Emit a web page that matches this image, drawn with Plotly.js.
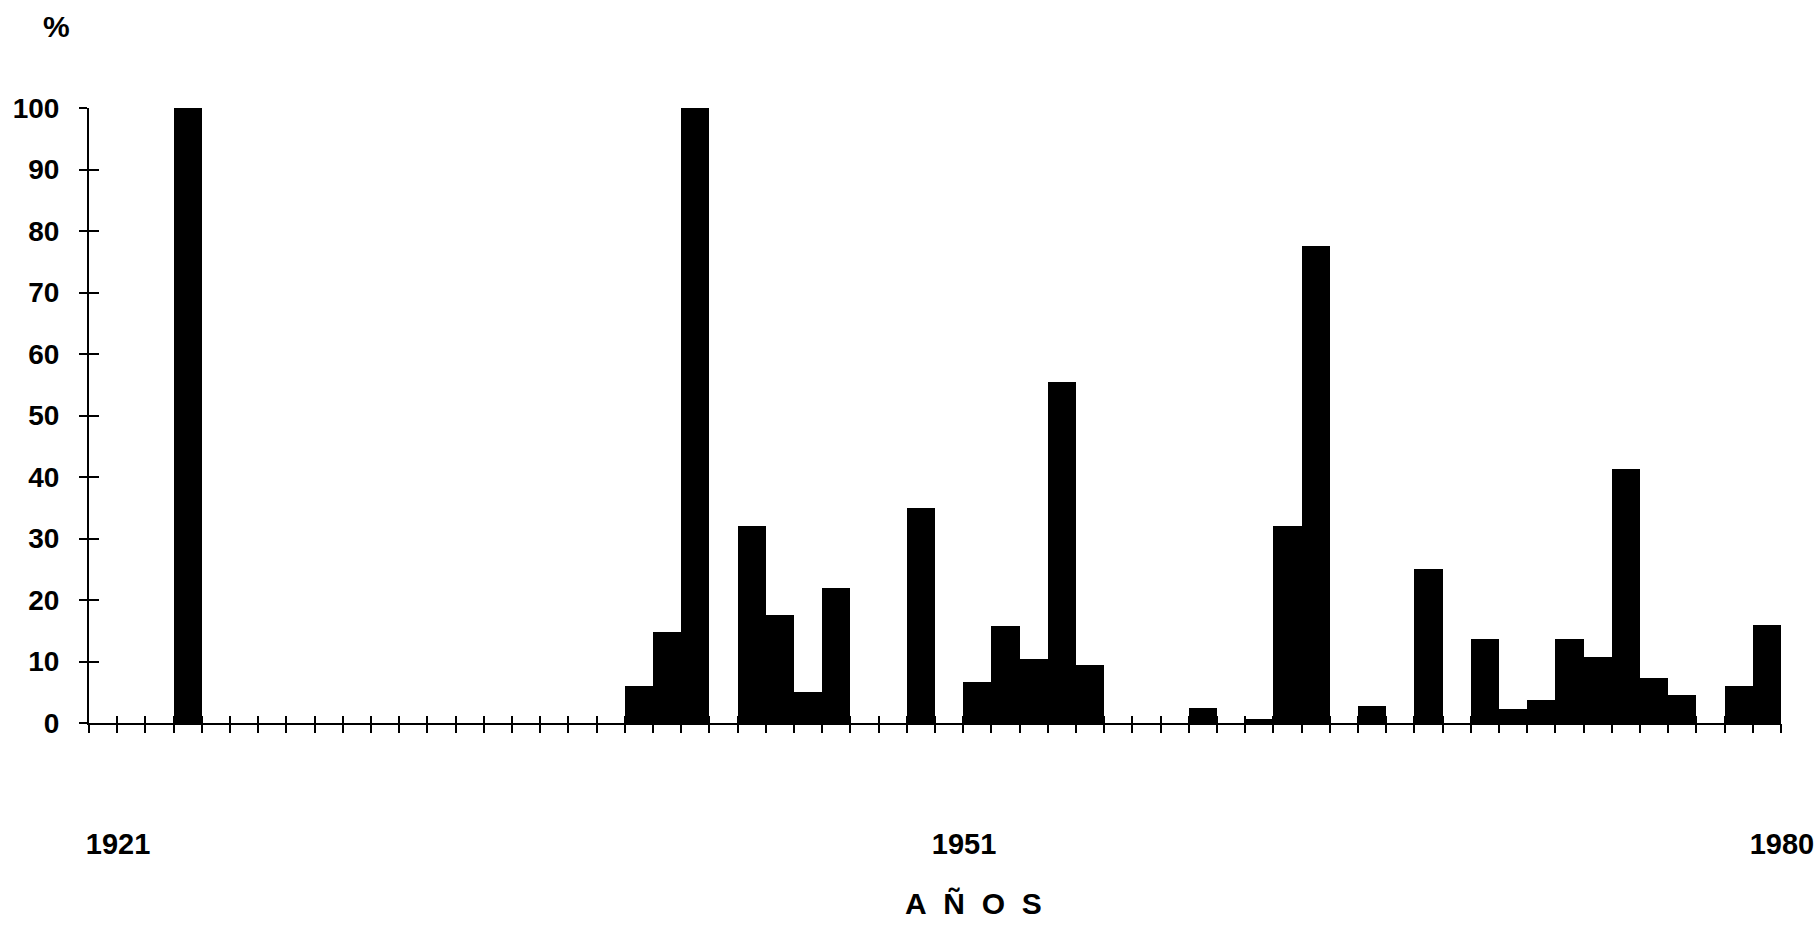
<!DOCTYPE html>
<html>
<head>
<meta charset="utf-8">
<script src="https://cdn.plot.ly/plotly-3.0.1.min.js"></script>
<style>html,body{margin:0;padding:0;background:#fff;}#chart{width:1816px;height:927px;}</style>
</head>
<body>
<div id="chart"></div>
<script>
// Years 1921–1980
const years = [1921,1922,1923,1924,1925,1926,1927,1928,1929,1930,
               1931,1932,1933,1934,1935,1936,1937,1938,1939,1940,
               1941,1942,1943,1944,1945,1946,1947,1948,1949,1950,
               1951,1952,1953,1954,1955,1956,1957,1958,1959,1960,
               1961,1962,1963,1964,1965,1966,1967,1968,1969,1970,
               1971,1972,1973,1974,1975,1976,1977,1978,1979,1980];
// Percentage values
const values = [0,0,0,100,0,0,0,0,0,0,
                0,0,0,0,0,0,0,0,0,6,
                14.8,100,0,32,17.5,5,22,0,0,35,
                0,6.7,15.8,10.4,55.5,9.5,0,0,0,2.4,
                0,0.6,32,77.5,0,2.8,0,25,0,13.6,
                2.2,3.7,13.7,10.7,41.3,7.3,4.6,0,6,15.9];
const labelYears = [1921, 1951, 1980];
const labelText = ['1921', '1951', '1980'];
const yTicks = [0,10,20,30,40,50,60,70,80,90,100];
const yTitle = '%';
const xTitle = 'A\u00a0\u00a0Ñ\u00a0\u00a0O\u00a0\u00a0S';

const F = 'Liberation Sans, Arial, sans-serif';
const xRange = [years[0] - 0.5, years[years.length - 1] + 0.5];

const trace = {
  type: 'bar',
  x: years,
  y: values,
  width: 1,
  marker: {color: '#000', line: {width: 0}},
  hoverinfo: 'x+y'
};
// invisible helper traces so the overlaying tick-only axes get drawn
const helper2 = {type: 'scatter', mode: 'markers', x: years, y: values,
  xaxis: 'x2', yaxis: 'y2', marker: {opacity: 0}, hoverinfo: 'skip'};
const helper3 = {type: 'scatter', mode: 'markers', x: years, y: values,
  xaxis: 'x3', yaxis: 'y2', marker: {opacity: 0}, hoverinfo: 'skip'};

const layout = {
  width: 1816,
  height: 927,
  margin: {l: 89, r: 35, t: 108, b: 204},
  paper_bgcolor: '#fff',
  plot_bgcolor: '#fff',
  showlegend: false,
  bargap: 0,
  xaxis: {
    range: xRange,
    showgrid: false, zeroline: false,
    showline: true, linecolor: '#000', linewidth: 2,
    tickmode: 'array', tickvals: labelYears, ticktext: labelText,
    ticks: '',
    ticklabelstandoff: 94,
    ticklabelshift: 15,
    ticklabeloverflow: 'allow',
    tickfont: {family: F, size: 29, color: '#000', weight: 'bold'}
  },
  xaxis2: {
    overlaying: 'x', range: xRange, anchor: 'y2',
    showgrid: false, zeroline: false, showline: false,
    tickmode: 'linear', tick0: xRange[0], dtick: 1,
    ticks: 'outside', ticklen: 9, tickwidth: 2, tickcolor: '#000',
    showticklabels: false
  },
  xaxis3: {
    overlaying: 'x', range: xRange, anchor: 'y2',
    showgrid: false, zeroline: false, showline: false,
    tickmode: 'linear', tick0: xRange[0], dtick: 1,
    ticks: 'inside', ticklen: 7, tickwidth: 2, tickcolor: '#000',
    showticklabels: false
  },
  yaxis: {
    range: [0, 100],
    showgrid: false, zeroline: false,
    showline: true, linecolor: '#000', linewidth: 2,
    tickmode: 'array', tickvals: yTicks, ticktext: yTicks.map(String),
    ticks: 'outside', ticklen: 8, tickwidth: 2, tickcolor: '#000',
    ticklabelstandoff: 14,
    tickfont: {family: F, size: 28, color: '#000', weight: 'bold'}
  },
  yaxis2: {
    overlaying: 'y', range: [0, 100], anchor: 'x2',
    showgrid: false, zeroline: false, showline: false,
    tickmode: 'array', tickvals: yTicks,
    ticks: 'inside', ticklen: 10, tickwidth: 2, tickcolor: '#000',
    showticklabels: false
  },
  annotations: [
    {text: yTitle, xref: 'paper', yref: 'paper', x: -0.019, y: 1.132,
     xanchor: 'center', yanchor: 'middle', showarrow: false,
     font: {family: F, size: 30, color: '#000', weight: 'bold'}},
    {text: xTitle, xref: 'paper', yref: 'paper', x: 0.5227, y: -0.293,
     xanchor: 'center', yanchor: 'middle', showarrow: false,
     font: {family: F, size: 30, color: '#000', weight: 'bold'}}
  ]
};

Plotly.newPlot('chart', [trace, helper2, helper3], layout, {displayModeBar: false, staticPlot: true});
</script>
</body>
</html>
